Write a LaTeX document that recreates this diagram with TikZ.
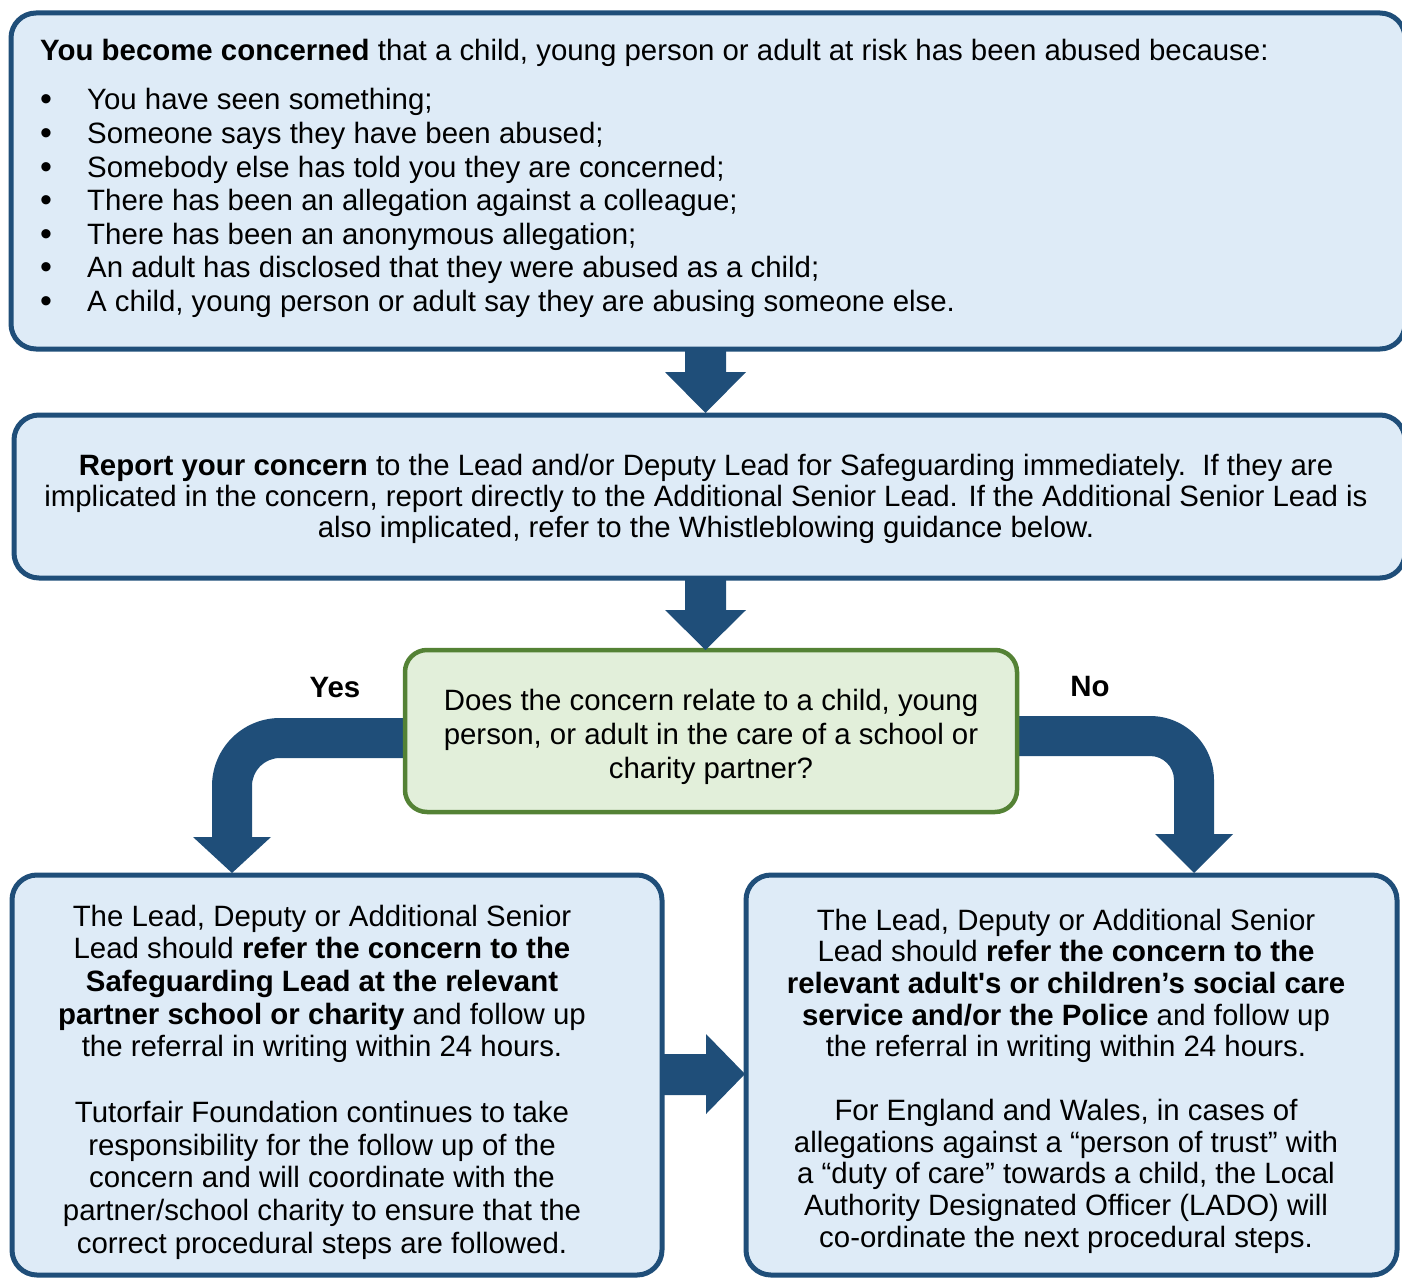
\documentclass[tikz,border=0pt]{standalone}
\usepackage{fontspec}
\setmainfont{Liberation Sans}
\definecolor{dblue}{HTML}{1F4E79}
\definecolor{lblue}{HTML}{DEEBF7}
\definecolor{gborder}{HTML}{548235}
\definecolor{gfill}{HTML}{E2EFDA}
\tikzset{
  bluebox/.style={draw=dblue, fill=lblue, line width=5pt, rounded corners=25pt, inner sep=0pt},
  greenbox/.style={draw=gborder, fill=gfill, line width=4.5pt, rounded corners=22pt, inner sep=0pt},
  blockarrow/.style={fill=dblue, draw=none},
  txt/.style={inner sep=0pt, font=\fontsize{29.4}{33}\selectfont},
}
\begin{document}
\begin{tikzpicture}[x=1pt,y=-1pt]
\useasboundingbox (0,0) rectangle (1402,1279);
% boxes
\node[bluebox, minimum width=1394pt, minimum height=336pt] (box1) at (708,181) {};
\node[bluebox, minimum width=1391pt, minimum height=163pt] (box2) at (709.5,496.5) {};
% curved arrows (drawn before decision box)
\fill[blockarrow] (430,718) -- (280,718) .. controls (242.4,718) and (212,748.4) .. (212,786) -- (212,837) -- (193,837) -- (232,873) -- (271,837) -- (252,837) -- (252,786) .. controls (252,770.5) and (264.5,758) .. (280,758) -- (430,758) -- cycle;
\fill[blockarrow] (990,716) -- (1150,716) .. controls (1185.3,716) and (1214,744.7) .. (1214,780) -- (1214,834) -- (1233,834) -- (1194,873) -- (1155,834) -- (1174,834) -- (1174,780) .. controls (1174,766.7) and (1163.3,756) .. (1150,756) -- (990,756) -- cycle;
\node[greenbox, minimum width=612pt, minimum height=162pt] (dec) at (711,731) {};
\node[bluebox, minimum width=650pt, minimum height=400pt] (boxL) at (337,1075) {};
\node[bluebox, minimum width=651pt, minimum height=400pt] (boxR) at (1071.5,1075) {};
% straight arrows
\fill[blockarrow] (685,349) -- (685,372) -- (665,372) -- (705.5,413) -- (746,372) -- (726,372) -- (726,349) -- cycle;
\fill[blockarrow] (685,578) -- (685,610) -- (665,610) -- (705.5,650) -- (746,610) -- (726,610) -- (726,578) -- cycle;
\fill[blockarrow] (662,1054) -- (706,1054) -- (706,1034) -- (745,1074) -- (706,1114) -- (706,1095) -- (662,1095) -- cycle;
% box 1 text
\node[txt, anchor=base west] (h1) at (40,61) {\textbf{You become concerned} that a child, young person or adult at risk has been abused because:};
\foreach \t [count=\i] in {You have seen something;, Someone says they have been abused;, Somebody else has told you they are concerned;, There has been an allegation against a colleague;, There has been an anonymous allegation;, An adult has disclosed that they were abused as a child;, {A child, young person or adult say they are abusing someone else.}} {
  \node[txt, anchor=base, font=\fontsize{34}{33}\selectfont] (bul\i) at (46,{111+(\i-1)*33.5}) {•};
  \node[txt, anchor=base west] (item\i) at (87,{110+(\i-1)*33.5}) {\t};
}
% box 2 text
\node[txt, align=center, font=\fontsize{29.4}{31}\selectfont] (t2) at (706,499) {\textbf{Report your concern} to the Lead and/or Deputy Lead for Safeguarding immediately.\ \ If they are\\implicated in the concern, report directly to the Additional Senior Lead. If the Additional Senior Lead is\\also implicated, refer to the Whistleblowing guidance below.};
% decision text
\node[txt, align=center, font=\fontsize{29.4}{34}\selectfont] (td) at (711,737) {Does the concern relate to a child, young\\person, or adult in the care of a school or\\charity partner?};
\node[txt, font=\bfseries\fontsize{29.4}{33}\selectfont] (yes) at (335,688) {Yes};
\node[txt, font=\bfseries\fontsize{29.4}{33}\selectfont] (no) at (1090,687) {No};
% bottom left text
\node[txt, align=center, font=\fontsize{29.4}{32.7}\selectfont] (tL) at (322,1082) {The Lead, Deputy or Additional Senior\\Lead should \textbf{refer the concern to the}\\\textbf{Safeguarding Lead at the relevant}\\\textbf{partner school or charity} and follow up\\the referral in writing within 24 hours.\\[32.7pt]Tutorfair Foundation continues to take\\responsibility for the follow up of the\\concern and will coordinate with the\\partner/school charity to ensure that the\\correct procedural steps are followed.};
% bottom right text
\node[txt, align=center, font=\fontsize{29.4}{31.7}\selectfont] (tR) at (1066,1081) {The Lead, Deputy or Additional Senior\\Lead should \textbf{refer the concern to the}\\\textbf{relevant adult\textquotesingle s or children’s social care}\\\textbf{service and/or the Police} and follow up\\the referral in writing within 24 hours.\\[31.7pt]For England and Wales, in cases of\\allegations against a “person of trust” with\\a “duty of care” towards a child, the Local\\Authority Designated Officer (LADO) will\\co-ordinate the next procedural steps.};
\end{tikzpicture}
\end{document}
